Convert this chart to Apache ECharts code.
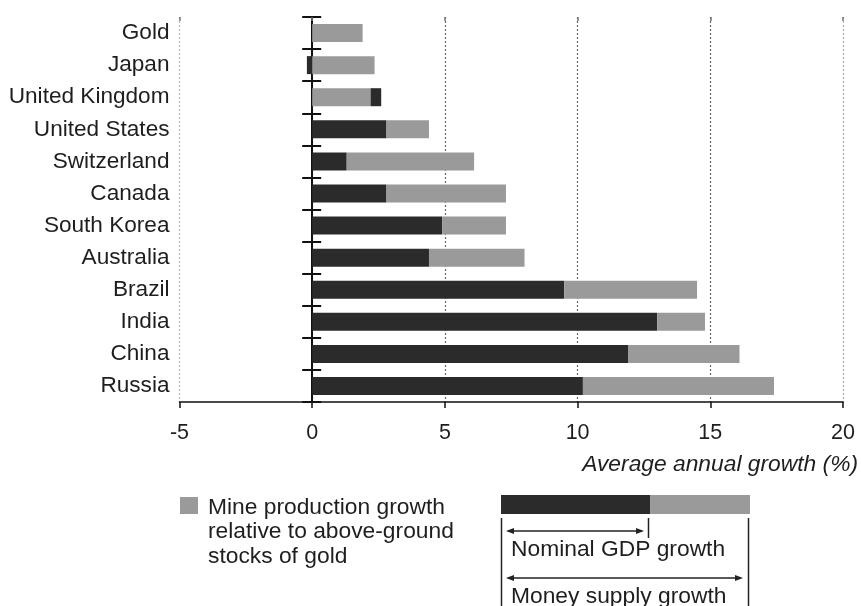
<!DOCTYPE html>
<html>
<head>
<meta charset="utf-8">
<script src="https://cdn.jsdelivr.net/npm/echarts@6/dist/echarts.min.js"></script>
<style>
html,body{margin:0;padding:0;background:#fff;}
#chart{width:861px;height:606px;}
</style>
</head>
<body>
<div id="chart"></div>
<script>
// ---- data ----
var categories = ['Gold','Japan','United Kingdom','United States','Switzerland','Canada','South Korea','Australia','Brazil','India','China','Russia'];
// dark segment starting at zero (nominal GDP growth)
var darkBase = [null, -0.2, null, 2.8, 1.3, 2.8, 4.9, 4.4, 9.5, 13.0, 11.9, 10.2];
// grey segment stacked on top (mine production / money supply gap)
var greyPart = [1.9, 2.35, 2.2, 1.6, 4.8, 4.5, 2.4, 3.6, 5.0, 1.8, 4.2, 7.2];
// dark tail beyond grey (United Kingdom)
var darkTail = [null, null, 0.4, null, null, null, null, null, null, null, null, null];
var xTicks = [-5, 0, 5, 10, 15, 20];

var DARK = '#2b2b2b', GREY = '#9a9a9a', TXT = '#1e1e1e';
var FONT = 'Liberation Sans';

var chart = echarts.init(document.getElementById('chart'));
var gridSplitColors = ['#b5b5b5','#666','#666','#666','#666','#aaa'];

var option = {
  animation: false,
  backgroundColor: '#fff',
  textStyle: {fontFamily: FONT},
  grid: {left: 179.5, right: 16, top: 17, bottom: 204, containLabel: false},
  xAxis: [{
    type: 'value', min: xTicks[0], max: xTicks[xTicks.length-1], interval: 5,
    position: 'bottom',
    axisLine: {show: true, onZero: false, lineStyle: {color: '#111', width: 1.5}},
    axisTick: {show: true, length: 6, lineStyle: {color: '#111', width: 1.5}},
    axisLabel: {fontSize: 21.5, color: TXT, margin: 20, fontFamily: FONT},
    splitLine: {show: true, lineStyle: {type: [2, 2], color: gridSplitColors, width: 1.2}},
    name: 'Average annual growth (%)', nameLocation: 'end', nameGap: 15,
    nameTextStyle: {fontSize: 22.8, fontStyle: 'italic', color: TXT, align: 'right', verticalAlign: 'top', padding: [51, 0, 0, 0], fontFamily: FONT}
  }, {
    type: 'value', min: xTicks[0], max: xTicks[xTicks.length-1], interval: 5,
    position: 'top',
    axisLine: {show: false, onZero: false},
    axisTick: {show: true, inside: true, length: 4, lineStyle: {color: '#777', width: 1.5}},
    axisLabel: {show: false}, splitLine: {show: false}
  }],
  yAxis: [{
    type: 'category', data: categories, inverse: true,
    axisLine: {show: false, onZero: false},
    axisTick: {show: false},
    axisLabel: {fontSize: 22.6, color: TXT, margin: 10, fontFamily: FONT}
  }, {
    type: 'category', data: categories, inverse: true,
    axisLine: {show: true, onZero: true, onZeroAxisIndex: 0, lineStyle: {color: '#111', width: 2}},
    axisTick: {show: true, inside: false, length: 9, lineStyle: {color: '#111', width: 2}},
    axisLabel: {show: false}
  }, {
    type: 'category', data: categories, inverse: true,
    axisLine: {show: false, onZero: true, onZeroAxisIndex: 0},
    axisTick: {show: true, inside: true, length: 10, lineStyle: {color: '#111', width: 2}},
    axisLabel: {show: false}
  }],
  series: [{
    name: 'Nominal GDP growth', type: 'bar', stack: 'g', barWidth: 18,
    itemStyle: {color: DARK}, data: darkBase
  }, {
    name: 'Mine production growth', type: 'bar', stack: 'g', barWidth: 18,
    itemStyle: {color: GREY}, data: greyPart
  }, {
    name: 'GDP beyond money', type: 'bar', stack: 'g', barWidth: 18,
    itemStyle: {color: DARK}, data: darkTail
  }],
  graphic: [
    // left legend
    {type: 'rect', shape: {x: 180, y: 497, width: 18, height: 17}, style: {fill: GREY}},
    {type: 'text', left: 208, top: 495, style: {text: 'Mine production growth\nrelative to above-ground\nstocks of gold', font: '22.8px "Liberation Sans"', fill: TXT, lineHeight: 24.5}},
    // schematic bar
    {type: 'rect', shape: {x: 501, y: 495, width: 149, height: 19}, style: {fill: DARK}},
    {type: 'rect', shape: {x: 650, y: 495, width: 100, height: 19}, style: {fill: GREY}},
    {type: 'line', shape: {x1: 501.5, y1: 518, x2: 501.5, y2: 606}, style: {stroke: '#222', lineWidth: 1.5}},
    {type: 'line', shape: {x1: 648.5, y1: 518, x2: 648.5, y2: 538}, style: {stroke: '#222', lineWidth: 1.5}},
    {type: 'line', shape: {x1: 748.5, y1: 518, x2: 748.5, y2: 606}, style: {stroke: '#222', lineWidth: 1.5}},
    {type: 'line', shape: {x1: 508, y1: 531, x2: 642, y2: 531}, style: {stroke: '#222', lineWidth: 1.3}},
    {type: 'polygon', shape: {points: [[506,531],[514,528],[514,534]]}, style: {fill: '#222'}},
    {type: 'polygon', shape: {points: [[644,531],[636,528],[636,534]]}, style: {fill: '#222'}},
    {type: 'text', left: 511, top: 538, style: {text: 'Nominal GDP growth', font: '22.8px "Liberation Sans"', fill: TXT}},
    {type: 'line', shape: {x1: 508, y1: 578, x2: 741, y2: 578}, style: {stroke: '#222', lineWidth: 1.3}},
    {type: 'polygon', shape: {points: [[506,578],[514,575],[514,581]]}, style: {fill: '#222'}},
    {type: 'polygon', shape: {points: [[743,578],[735,575],[735,581]]}, style: {fill: '#222'}},
    {type: 'text', left: 511, top: 585, style: {text: 'Money supply growth', font: '22.8px "Liberation Sans"', fill: TXT}}
  ]
};
chart.setOption(option);
</script>
</body>
</html>
